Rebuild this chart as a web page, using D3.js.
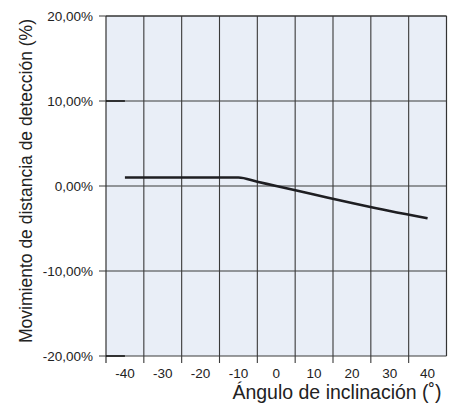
<!DOCTYPE html>
<html><head><meta charset="utf-8">
<script src="https://cdn.jsdelivr.net/npm/d3@7"></script>
<style>body{margin:0;background:#fff}svg{display:block}text{font-family:"Liberation Sans",Arial,sans-serif;fill:#222}</style>
</head><body><svg id="c" width="449" height="403"></svg>
<script>
const angles = [-40, -10, -5, 0, 10, 20, 30, 40];
const movement = [1.0, 1.0, 0.5, 0.0, -1.0, -2.0, -2.95, -3.8];
const xTicks = [-40, -30, -20, -10, 0, 10, 20, 30, 40];
const xGrid = [-35, -25, -15, -5, 5, 15, 25, 35];
const yTicks = [20, 10, 0, -10, -20];
const yTickLabels = ["20,00%", "10,00%", "0,00%", "-10,00%", "-20,00%"];
const xTitle = "Ángulo de inclinación (˚)";
const yTitle = "Movimiento de distancia de detección (%)";

const svg = d3.select("#c");
const L = 106, R = 446.5, T = 16, B = 356;
const x = d3.scaleLinear().domain([-45, 45]).range([L, R]);
const y = d3.scaleLinear().domain([-20, 20]).range([B, T]);

svg.append("rect").attr("x", L).attr("y", T).attr("width", R - L).attr("height", B - T).attr("fill", "#e9eef7");

const g = svg.append("g");
g.selectAll("line.vg").data(xGrid).join("line")
  .attr("x1", d => x(d)).attr("x2", d => x(d)).attr("y1", T).attr("y2", B + 7)
  .attr("stroke", "#3a3a3a").attr("stroke-width", 1.1);
g.selectAll("line.hg").data(yTicks).join("line")
  .attr("x1", L - 7).attr("x2", R).attr("y1", d => y(d)).attr("y2", d => y(d))
  .attr("stroke", "#3a3a3a").attr("stroke-width", 1.1);
g.append("line").attr("x1", L).attr("x2", L).attr("y1", T).attr("y2", B + 7).attr("stroke", "#333").attr("stroke-width", 1.2);
g.append("line").attr("x1", R).attr("x2", R).attr("y1", T).attr("y2", B).attr("stroke", "#333").attr("stroke-width", 1.2);
g.append("line").attr("x1", L).attr("x2", R).attr("y1", T).attr("y2", T).attr("stroke", "#333").attr("stroke-width", 1.2);

[10, -20].forEach(v => {
  svg.append("line").attr("x1", L).attr("x2", x(-40)).attr("y1", y(v)).attr("y2", y(v))
    .attr("stroke", "#111").attr("stroke-width", 1.5);
});

const line = d3.line().x((d, i) => x(angles[i])).y(d => y(d)).curve(d3.curveMonotoneX);
svg.append("path").datum(movement).attr("d", line).attr("fill", "none")
  .attr("stroke", "#1e1e22").attr("stroke-width", 2.6);

svg.selectAll("text.yt").data(yTicks).join("text")
  .attr("x", 93).attr("y", d => y(d) + 4.5).attr("text-anchor", "end")
  .attr("font-size", 13.5).text((d, i) => yTickLabels[i]);
svg.selectAll("text.xt").data(xTicks).join("text")
  .attr("x", d => x(d)).attr("y", 378).attr("text-anchor", "middle")
  .attr("font-size", 13.5).text(d => d);

svg.append("text").attr("x", 337).attr("y", 398.5).attr("text-anchor", "middle")
  .attr("font-size", 19.5).text(xTitle);
svg.append("text").attr("transform", "translate(32,181) rotate(-90)").attr("text-anchor", "middle")
  .attr("font-size", 17.5).text(yTitle);
</script></body></html>
